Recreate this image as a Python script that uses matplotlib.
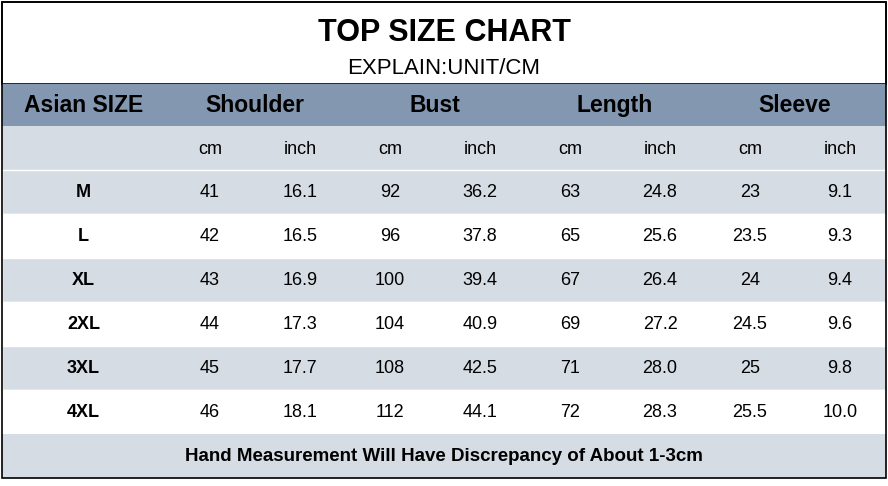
import matplotlib
matplotlib.use("Agg")
import matplotlib.pyplot as plt
from matplotlib.patches import Rectangle

plt.rcParams['font.family'] = ['Liberation Sans', 'DejaVu Sans']

title = "TOP SIZE CHART"
subtitle = "EXPLAIN:UNIT/CM"
measures = ["Shoulder", "Bust", "Length", "Sleeve"]
units = ["cm", "inch"]
sizes = ["M", "L", "XL", "2XL", "3XL", "4XL"]
shoulder_cm = ["41", "42", "43", "44", "45", "46"]
shoulder_in = ["16.1", "16.5", "16.9", "17.3", "17.7", "18.1"]
bust_cm = ["92", "96", "100", "104", "108", "112"]
bust_in = ["36.2", "37.8", "39.4", "40.9", "42.5", "44.1"]
length_cm = ["63", "65", "67", "69", "71", "72"]
length_in = ["24.8", "25.6", "26.4", "27.2", "28.0", "28.3"]
sleeve_cm = ["23", "23.5", "24", "24.5", "25", "25.5"]
sleeve_in = ["9.1", "9.3", "9.4", "9.6", "9.8", "10.0"]
footer = "Hand Measurement Will Have Discrepancy of About 1-3cm"

W, H = 888, 486
fig = plt.figure(figsize=(W / 100, H / 100), dpi=100)
ax = fig.add_axes([0, 0, 1, 1])
ax.set_xlim(0, W)
ax.set_ylim(H, 0)
ax.axis("off")

light = "#D6DCE4"
header = "#8497B0"
x0, col0_w, col_w = 2, 163, 90
row_h = 44

# title block
ax.add_patch(Rectangle((x0, 2), W - 4, 82, fc="white", ec="black", lw=1.2))
ax.text(W / 2, 33, title, ha="center", va="center", fontsize=22, fontweight="bold")
ax.text(W / 2, 68, subtitle, ha="center", va="center", fontsize=16)

# header rows
ax.add_patch(Rectangle((x0, 84), W - 4, 42, fc=header, ec="none"))
ax.add_patch(Rectangle((x0, 126), W - 4, 44, fc=light, ec="none"))
ax.text(x0 + col0_w / 2, 105, "Asian SIZE", ha="center", va="center", fontsize=16.5, fontweight="bold")
for i, m in enumerate(measures):
    cx = x0 + col0_w + col_w * (2 * i + 1)
    ax.text(cx, 105, m, ha="center", va="center", fontsize=16.5, fontweight="bold")
    for j, u in enumerate(units):
        ax.text(x0 + col0_w + col_w * (2 * i + j + 0.5), 149, u, ha="center", va="center", fontsize=13)

# data rows
cols = [shoulder_cm, shoulder_in, bust_cm, bust_in, length_cm, length_in, sleeve_cm, sleeve_in]
for r, s in enumerate(sizes):
    y = 170 + r * row_h
    ax.add_patch(Rectangle((x0, y), W - 4, row_h, fc=light if r % 2 == 0 else "white", ec="white", lw=1))
    yc = y + row_h / 2
    ax.text(x0 + col0_w / 2, yc, s, ha="center", va="center", fontsize=13, fontweight="bold")
    for c, vals in enumerate(cols):
        ax.text(x0 + col0_w + col_w * (c + 0.5), yc, vals[r], ha="center", va="center", fontsize=13)

# footer
fy = 170 + len(sizes) * row_h
ax.add_patch(Rectangle((x0, fy), W - 4, row_h, fc=light, ec="none"))
ax.text(W / 2, fy + row_h / 2, footer, ha="center", va="center", fontsize=13.5, fontweight="bold")

# outer border
ax.add_patch(Rectangle((x0, 2), W - 4, fy + row_h - 2, fc="none", ec="black", lw=1.2))

fig.savefig("out.png", dpi=100)
